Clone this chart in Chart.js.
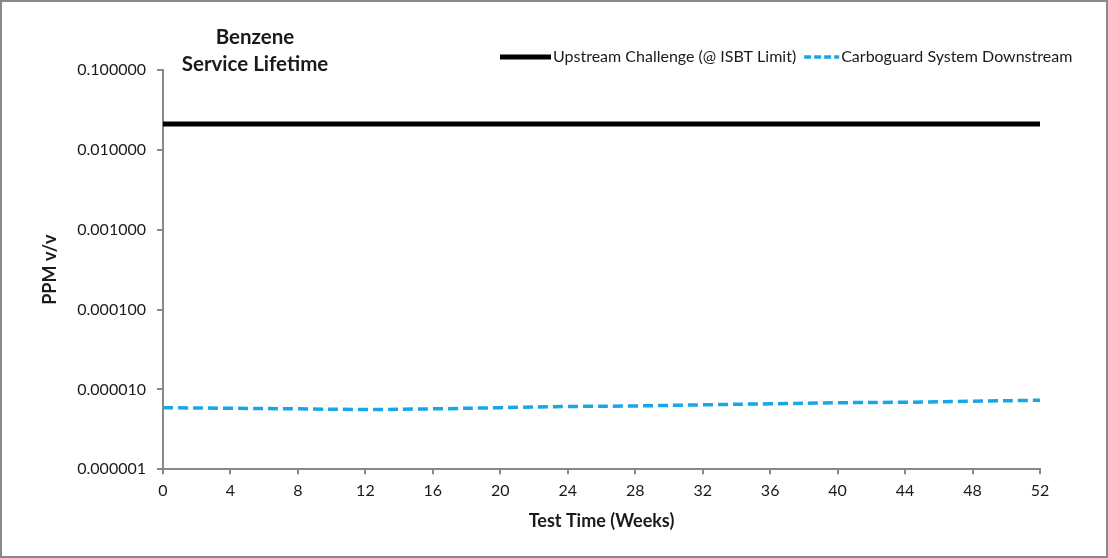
<!DOCTYPE html>
<html>
<head>
<meta charset="utf-8">
<script src="https://cdn.jsdelivr.net/npm/chart.js@4.4.1/dist/chart.umd.min.js"></script>
<style>
  html, body { margin: 0; padding: 0; background: #fff; }
  #frame { width: 1108px; height: 558px; box-sizing: border-box; border: 2px solid #898989; background: #fff; }
  canvas { display: block; }
</style>
</head>
<body>
<div id="frame"><canvas id="chart" width="1104" height="554"></canvas></div>
<script>
const weeks = [0, 4, 8, 12, 16, 20, 24, 28, 32, 36, 40, 44, 48, 52];
const upstream = [0.021, 0.021, 0.021, 0.021, 0.021, 0.021, 0.021, 0.021, 0.021, 0.021, 0.021, 0.021, 0.021, 0.021];
const downstream = [5.9e-6, 5.8e-6, 5.7e-6, 5.6e-6, 5.7e-6, 5.9e-6, 6.1e-6, 6.2e-6, 6.4e-6, 6.6e-6, 6.8e-6, 6.9e-6, 7.1e-6, 7.3e-6];
const seriesNames = ["Upstream Challenge (@ ISBT Limit)", "Carboguard System Downstream"];
const yTicks = [0.000001, 0.00001, 0.0001, 0.001, 0.01, 0.1];
const titleLines = ["Benzene", "Service Lifetime"];

const FONT = "Lato, 'Liberation Sans', sans-serif";
const axisColor = "#898989";
const textColor = "#1a1a1a";

const toPoints = (values) => values.map((v, i) => ({ x: weeks[i], y: v }));

// title and legend sit where the original put them, not where Chart.js would
const headerPlugin = {
  id: "header",
  afterDraw(chart) {
    const { ctx } = chart;
    ctx.save();
    ctx.fillStyle = textColor;
    ctx.textAlign = "center";
    ctx.textBaseline = "middle";
    ctx.font = `bold 20.5px ${FONT}`;
    titleLines.forEach((line, i) => ctx.fillText(line, 253, 35 + i * 27));

    ctx.font = `16px ${FONT}`;
    ctx.textAlign = "left";
    const sampleLengths = [51, 35];
    const sampleDash = [[], [7, 3]];
    let x = 498;
    const y = 55;
    chart.data.datasets.forEach((ds, i) => {
      ctx.strokeStyle = ds.borderColor;
      ctx.lineWidth = ds.borderWidth;
      ctx.setLineDash(sampleDash[i]);
      ctx.beginPath();
      ctx.moveTo(x, y);
      ctx.lineTo(x + sampleLengths[i], y);
      ctx.stroke();
      x += sampleLengths[i] + 2;
      ctx.fillText(ds.label, x, y);
      x += ctx.measureText(ds.label).width + 8;
    });
    ctx.restore();
  }
};

new Chart(document.getElementById("chart"), {
  type: "line",
  data: {
    datasets: [
      {
        label: seriesNames[0],
        data: toPoints(upstream),
        borderColor: "#000000",
        borderWidth: 5,
        pointRadius: 0
      },
      {
        label: seriesNames[1],
        data: toPoints(downstream),
        borderColor: "#17a6e6",
        borderWidth: 3.5,
        borderDash: [10, 5],
        tension: 0.4,
        pointRadius: 0
      }
    ]
  },
  options: {
    responsive: false,
    animation: false,
    layout: { padding: { top: 68, right: 66, bottom: 24, left: 0 } },
    plugins: {
      legend: { display: false },
      tooltip: { enabled: false }
    },
    scales: {
      x: {
        type: "linear",
        min: 0,
        max: 52,
        ticks: { stepSize: 4, color: textColor, padding: 7, font: { family: FONT, size: 16 } },
        grid: { drawOnChartArea: false, tickLength: 5, color: axisColor, lineWidth: 2 },
        border: { color: axisColor, width: 2 },
        title: {
          display: true,
          text: "Test Time (Weeks)",
          color: textColor,
          font: { family: FONT, size: 18, weight: "bold" },
          padding: { top: 3, bottom: 0 }
        }
      },
      y: {
        type: "logarithmic",
        min: 0.000001,
        max: 0.1,
        afterBuildTicks: (scale) => {
          scale.ticks = yTicks.map((v) => ({ value: v }));
        },
        afterFit: (scale) => {
          scale.width = 161;
        },
        ticks: {
          color: textColor,
          padding: 11,
          font: { family: FONT, size: 16 },
          callback: (v) => Number(v).toFixed(6)
        },
        grid: { drawOnChartArea: false, tickLength: 6, color: axisColor, lineWidth: 2 },
        border: { color: axisColor, width: 2 },
        title: {
          display: true,
          text: "PPM v/v",
          color: textColor,
          font: { family: FONT, size: 18, weight: "bold" },
          padding: { top: 37, bottom: 0 }
        }
      }
    }
  },
  plugins: [headerPlugin]
});
</script>
</body>
</html>
